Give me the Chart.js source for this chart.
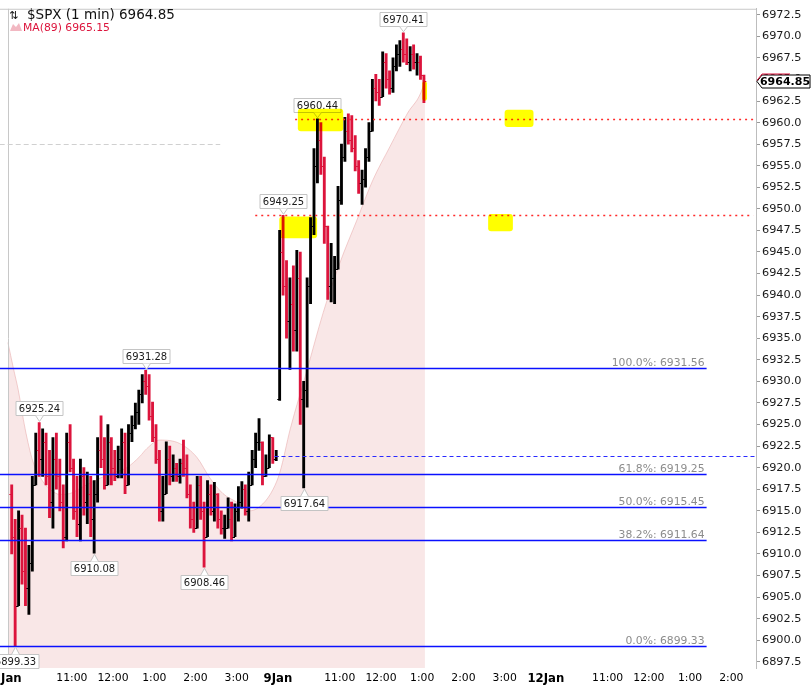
<!DOCTYPE html>
<html>
<head>
<meta charset="utf-8">
<script src="https://cdn.jsdelivr.net/npm/chart.js@4.4.1/dist/chart.umd.min.js"></script>
<style>
  html, body { margin: 0; padding: 0; background: #fff; }
  canvas { display: block; }
</style>
</head>
<body>
<canvas id="spxChart" width="811" height="687"></canvas>
<script>
    // Time axis: trading minutes counted from 9:30 on 8 Jan (9 Jan open = 390, 12 Jan open = 780)
    const barTimes = [
        0, 5, 10, 15, 20, 25, 30, 35, 40, 45, 50, 55, 60, 65, 70, 75, 80, 85, 90, 95,
        100, 105, 110, 115, 120, 125, 130, 135, 140, 145, 150, 155, 160, 165, 170, 175, 180, 185, 190, 195,
        200, 205, 210, 215, 220, 225, 230, 235, 240, 245, 250, 255, 260, 265, 270, 275, 280, 285, 290, 295,
        300, 305, 310, 315, 320, 325, 330, 335, 340, 345, 350, 355, 360, 365, 370, 375, 380, 385,
        390, 395, 400, 405, 410, 415, 420, 425, 430, 435, 440, 445, 450, 455, 460, 465, 470, 475, 480, 485,
        490, 495, 500, 505, 510, 515, 520, 525, 530, 535, 540, 545, 550, 555, 560, 565, 570, 575, 580, 585,
        590, 595, 600
    ];
    const barOpen = [
        6917, 6912, 6904, 6913, 6908, 6906, 6909, 6918, 6922, 6921, 6923, 6919, 6916, 6921, 6919, 6916, 6912, 6923, 6920, 6915,
        6913.5, 6919, 6916, 6917, 6914, 6917, 6922, 6921, 6918, 6923, 6920, 6919, 6921, 6923, 6918, 6924, 6925, 6926.5, 6928.5, 6930,
        6929.5, 6926, 6923.5, 6921, 6915, 6917, 6921, 6919, 6920, 6919, 6920.5, 6920, 6917, 6914, 6913, 6918, 6915, 6912, 6917, 6915,
        6917, 6914, 6913, 6913, 6914, 6912, 6915, 6916, 6917.5, 6915, 6918, 6921, 6923, 6923, 6919, 6920, 6923.5, 6921,
        6928, 6945, 6941, 6937, 6939, 6936, 6942, 6928, 6929, 6941, 6948, 6955, 6958, 6955, 6948, 6941, 6942, 6943, 6951, 6956,
        6959, 6958, 6957, 6955, 6953, 6953.5, 6956, 6959, 6964, 6963.5, 6963, 6967, 6965, 6964, 6966.5, 6968, 6968.5, 6968, 6967, 6968,
        6967, 6967, 6965.5
    ];
    const barHigh = [
        6918, 6914, 6915, 6914.5, 6913, 6911, 6919, 6924, 6925.24, 6924.5, 6924, 6922, 6923.5, 6924, 6921, 6918, 6924, 6925, 6921, 6919,
        6921, 6920, 6919.5, 6919, 6918.5, 6923.5, 6926, 6923.5, 6925, 6923.5, 6922, 6922.5, 6924.5, 6924, 6925, 6926, 6927.5, 6929, 6930.8, 6931.28,
        6930.8, 6927.6, 6925, 6922, 6919, 6923, 6922.5, 6921.5, 6920.5, 6921, 6923.2, 6921.5, 6918, 6916, 6919, 6919, 6916, 6918.5, 6918, 6918.3,
        6917, 6915, 6914.5, 6916.5, 6916, 6915.8, 6917.8, 6918.4, 6918, 6919.5, 6922, 6924, 6925.7, 6923, 6921.5, 6923.8, 6923.5, 6922,
        6947.5, 6949.25, 6944, 6942, 6943.4, 6945.2, 6945, 6930, 6942, 6949, 6957, 6960.44, 6960, 6956, 6948, 6946, 6944.5, 6952.6, 6957.5, 6960.6,
        6961, 6960.8, 6958.5, 6955.6, 6954.5, 6957, 6960, 6965, 6965.6, 6965, 6968.2, 6968, 6966, 6967.5, 6969, 6969.5, 6970.41, 6969.7, 6968.8, 6969,
        6968, 6967.7, 6965.5
    ];
    const barLow = [
        6910, 6899.33, 6904, 6906.5, 6904, 6903, 6908, 6918, 6919, 6919, 6918, 6914.2, 6913, 6917.5, 6915, 6910.7, 6911.5, 6919.5, 6914, 6912,
        6911.5, 6914.5, 6913.5, 6912, 6910.08, 6916, 6920, 6917.5, 6918, 6918, 6918.5, 6918.8, 6918.8, 6917, 6918, 6923, 6924.5, 6925, 6927.5, 6928.5,
        6925.5, 6923, 6920.5, 6913.8, 6913.8, 6917, 6918, 6918.4, 6918.4, 6918.2, 6919, 6916.5, 6913, 6912.5, 6913, 6914, 6908.46, 6912, 6914.5, 6913.8,
        6913, 6912.3, 6911.8, 6913, 6911.5, 6912, 6913.8, 6915.3, 6914.5, 6913.8, 6918, 6920, 6922, 6918, 6919, 6920, 6920.5, 6920.8,
        6927.8, 6940, 6935, 6931.4, 6933.5, 6933.5, 6925, 6917.64, 6927, 6939, 6947, 6953, 6954, 6946, 6939.5, 6939.2, 6939, 6943, 6950.5, 6955.5,
        6957.5, 6956.6, 6954.4, 6951.8, 6950.5, 6952.5, 6955.5, 6959, 6962.5, 6962, 6963, 6964, 6963.3, 6963.5, 6966, 6966.5, 6967, 6966.7, 6966, 6966.2,
        6965.5, 6965, 6962.3
    ];
    const barClose = [
        6912, 6904, 6913, 6908, 6906, 6909, 6918, 6922, 6921, 6923, 6919, 6916, 6921, 6919, 6916, 6912, 6923, 6920, 6915, 6913.5,
        6919, 6916, 6917, 6914, 6917, 6922, 6921, 6918, 6923, 6920, 6919, 6921, 6923, 6918, 6924, 6925, 6926.5, 6928.5, 6930, 6929.5,
        6926, 6923.5, 6921, 6915, 6917, 6921, 6919, 6920, 6919, 6920.5, 6920, 6917, 6914, 6913, 6918, 6915, 6912, 6917, 6915, 6917,
        6914, 6913, 6913, 6914, 6912, 6915, 6916, 6917.5, 6915, 6918, 6921, 6923, 6923, 6919, 6920, 6923.5, 6921, 6921.3,
        6945, 6941, 6937, 6939, 6936, 6942, 6928, 6929, 6941, 6948, 6955, 6958, 6955, 6948, 6941, 6942, 6943, 6951, 6956, 6959,
        6958, 6957, 6955, 6953, 6953.5, 6956, 6959, 6964, 6963.5, 6963, 6967, 6965, 6964, 6966.5, 6968, 6968.5, 6968, 6967, 6968, 6967,
        6967, 6965.5, 6964.85
    ];

    // MA(89)
    const maTimes = [-3, 5, 12, 22, 33, 47, 58, 73, 87, 102, 121, 146, 170, 189, 199, 218, 247, 272, 291, 310,
        330, 349, 368, 383, 393, 408, 432, 456, 480, 505, 528, 553, 578, 601, 604];
    const maValues = [6934.5, 6931.5, 6929, 6924.5, 6920.8, 6918.5, 6917.5, 6916.9, 6917, 6917.6, 6918.4, 6919.3, 6920, 6921.3, 6922.2, 6923.2, 6922.8, 6921.2, 6918.8, 6917,
        6916, 6915, 6915.8, 6917.5, 6919.5, 6924.5, 6931.2, 6938, 6943.7, 6948.7, 6953.3, 6957.2, 6961, 6964.1, 6965.15];

    // Fibonacci retracement
    const fibValues = [6931.56, 6919.25, 6915.45, 6911.64, 6899.33];
    const fibLabels = ['100.0%: 6931.56', '61.8%: 6919.25', '50.0%: 6915.45', '38.2%: 6911.64', '0.0%: 6899.33'];
    const fibEnd = 1014;

    // Other drawn levels: [value, start time, end time]
    const priorClose = [6921.3, 385, 1086];
    const redLevels = [[6960.44, 415, 1086], [6949.25, 357, 1082]];
    const grayLevel = [6957.5, -15, 306];

    // Price callouts
    const calloutTimes = [7.5, 42.5, 122.5, 197.5, 282.5, 397.5, 427.5, 447.5, 572.5];
    const calloutValues = [6899.33, 6925.24, 6910.08, 6931.28, 6908.46, 6949.25, 6917.64, 6960.44, 6970.41];
    const calloutAbove = [false, true, false, true, false, true, false, true, true];

    // Yellow highlighter marks: [t0, t1, low, high]
    const highlights = [
        [419, 485, 6959, 6961.6],
        [720, 762, 6959.5, 6961.5],
        [392, 447, 6946.6, 6949.1],
        [696, 732, 6947.4, 6949.4],
        [600, 607, 6962.5, 6964.8]
    ];

    const tickTimes = [2, 90, 150, 210, 270, 330, 390, 480, 540, 600, 660, 720, 780, 870, 930, 990, 1050];
    const tickLabels = ['Jan', '11:00', '12:00', '1:00', '2:00', '3:00', '9Jan', '11:00', '12:00', '1:00', '2:00', '3:00', '12Jan', '11:00', '12:00', '1:00', '2:00'];

    const lastPrice = 6964.85;
    const lastMA = 6965.15;

    const upColor = '#000000';
    const downColor = '#dc143c';
    const font = 'DejaVu Sans';

    // Drawing of everything the datasets do not cover
    const overlay = {
        id: 'overlay',
        afterDatasetsDraw(chart) {
            const { ctx, chartArea: a, scales: { x, y } } = chart;
            ctx.save();

            // open / close ticks of the bars
            ctx.lineWidth = 1;
            barTimes.forEach((t, i) => {
                const px = x.getPixelForValue(t + 2.5);
                const yo = Math.round(y.getPixelForValue(barOpen[i])) + 0.5;
                const yc = Math.round(y.getPixelForValue(barClose[i])) + 0.5;
                ctx.strokeStyle = barClose[i] >= barOpen[i] ? upColor : downColor;
                ctx.beginPath();
                ctx.moveTo(px - 2.4, yo); ctx.lineTo(px, yo);
                ctx.moveTo(px, yc); ctx.lineTo(px + 2.4, yc);
                ctx.stroke();
            });

            // frame
            ctx.strokeStyle = '#c8c8c8';
            ctx.beginPath();
            ctx.moveTo(0, a.top + 0.5); ctx.lineTo(a.right, a.top + 0.5);
            const sx = Math.round(x.getPixelForValue(-3)) + 0.5;
            ctx.moveTo(sx, a.top); ctx.lineTo(sx, a.bottom);
            ctx.stroke();

            // gray dashed level
            ctx.setLineDash([5, 3]);
            ctx.strokeStyle = '#d0d0d0';
            let gy = Math.round(y.getPixelForValue(grayLevel[0])) + 0.5;
            ctx.beginPath();
            ctx.moveTo(x.getPixelForValue(grayLevel[1]), gy);
            ctx.lineTo(x.getPixelForValue(grayLevel[2]), gy);
            ctx.stroke();

            // prior close, blue dashed
            ctx.setLineDash([4, 3]);
            ctx.strokeStyle = '#2a2aff';
            gy = Math.round(y.getPixelForValue(priorClose[0])) + 0.5;
            ctx.beginPath();
            ctx.moveTo(x.getPixelForValue(priorClose[1]), gy);
            ctx.lineTo(x.getPixelForValue(priorClose[2]), gy);
            ctx.stroke();

            // red dotted levels
            ctx.setLineDash([2, 4]);
            ctx.strokeStyle = '#ff2a2a';
            ctx.lineWidth = 1.3;
            redLevels.forEach(l => {
                const ly = Math.round(y.getPixelForValue(l[0])) + 0.5;
                ctx.beginPath();
                ctx.moveTo(x.getPixelForValue(l[1]), ly);
                ctx.lineTo(x.getPixelForValue(l[2]), ly);
                ctx.stroke();
            });
            ctx.setLineDash([]);

            // Fibonacci lines and labels
            ctx.font = '10.8px "' + font + '"';
            ctx.textAlign = 'right';
            ctx.textBaseline = 'alphabetic';
            fibValues.forEach((v, i) => {
                const ly = Math.round(y.getPixelForValue(v)) + 0.5;
                const xe = x.getPixelForValue(fibEnd);
                ctx.strokeStyle = '#0a10ff';
                ctx.lineWidth = 1.3;
                ctx.beginPath();
                ctx.moveTo(0, ly); ctx.lineTo(xe, ly);
                ctx.stroke();
                ctx.fillStyle = '#8c8c8c';
                ctx.fillText(fibLabels[i], xe - 2, ly - 3);
            });

            // callouts
            ctx.font = '10px "' + font + '"';
            ctx.textAlign = 'center';
            ctx.textBaseline = 'middle';
            ctx.lineWidth = 1;
            calloutTimes.forEach((t, i) => {
                const px = Math.round(x.getPixelForValue(t)) + 0.5;
                const py = y.getPixelForValue(calloutValues[i]);
                const text = calloutValues[i].toFixed(2);
                const w = Math.round(ctx.measureText(text).width) + 6;
                const h = 14;
                const bx = px - w / 2;
                let by, tip, base;
                if (calloutAbove[i]) {
                    base = Math.round(py - 7) + 0.5;
                    by = base - h;
                    tip = py - 1;
                } else {
                    base = Math.round(py + 8) + 0.5;
                    by = base;
                    tip = py + 1;
                }
                ctx.fillStyle = '#ffffff';
                ctx.strokeStyle = '#c4c4c4';
                ctx.beginPath();
                ctx.rect(bx, by, w, h);
                ctx.fill();
                ctx.stroke();
                ctx.beginPath();
                ctx.moveTo(px - 4, base); ctx.lineTo(px, tip); ctx.lineTo(px + 4, base);
                ctx.fillStyle = '#ffffff';
                ctx.fill();
                ctx.stroke();
                ctx.fillStyle = '#1a1a1a';
                ctx.fillText(text, px, by + h / 2 + 0.5);
            });

            // highlighter marks
            ctx.globalCompositeOperation = 'multiply';
            ctx.fillStyle = '#ffff00';
            highlights.forEach(m => {
                const x0 = x.getPixelForValue(m[0]);
                const x1 = x.getPixelForValue(m[1]);
                const y0 = y.getPixelForValue(m[3]);
                const y1 = y.getPixelForValue(m[2]);
                ctx.beginPath();
                ctx.roundRect(x0, y0, x1 - x0, y1 - y0, 3);
                ctx.fill();
            });
            ctx.restore();
        },
        afterDraw(chart) {
            const { ctx, chartArea: a, scales: { y } } = chart;
            ctx.save();

            // header
            ctx.textAlign = 'left';
            ctx.textBaseline = 'alphabetic';
            ctx.fillStyle = '#111';
            ctx.font = '11px "' + font + '"';
            ctx.fillText('⇅', 9, 19);
            ctx.font = '13.5px "' + font + '"';
            ctx.fillText('$SPX (1 min) ' + lastPrice.toFixed(2), 27, 19);

            // MA legend with small mountain icon
            ctx.fillStyle = '#f2b8c2';
            ctx.beginPath();
            ctx.moveTo(10, 31); ctx.lineTo(13, 24); ctx.lineTo(16, 27); ctx.lineTo(19, 23); ctx.lineTo(22, 31);
            ctx.closePath();
            ctx.fill();
            ctx.fillStyle = downColor;
            ctx.font = '10.8px "' + font + '"';
            ctx.fillText('MA(89) ' + lastMA.toFixed(2), 23, 31);

            // last price tag on the axis
            const ty = Math.round(y.getPixelForValue(lastPrice)) + 0.5;
            const tx = a.right;
            ctx.beginPath();
            ctx.moveTo(tx + 1, ty);
            ctx.lineTo(tx + 6, ty - 6.5);
            ctx.lineTo(810, ty - 6.5);
            ctx.lineTo(810, ty + 6.5);
            ctx.lineTo(tx + 6, ty + 6.5);
            ctx.closePath();
            ctx.fillStyle = '#ffffff';
            ctx.fill();
            ctx.strokeStyle = '#000';
            ctx.lineWidth = 1;
            ctx.stroke();
            ctx.strokeStyle = downColor;
            ctx.beginPath();
            ctx.moveTo(tx + 1, ty - 1);
            ctx.lineTo(tx + 6, ty - 7.5);
            ctx.lineTo(790, ty - 7.5);
            ctx.stroke();
            ctx.fillStyle = '#000';
            ctx.font = 'bold 11px "' + font + '"';
            ctx.textAlign = 'center';
            ctx.textBaseline = 'middle';
            ctx.fillText(lastPrice.toFixed(2), 785, ty + 0.5);
            ctx.restore();
        }
    };

    const spxChart = new Chart(document.getElementById('spxChart').getContext('2d'), {
        type: 'bar',
        data: {
            datasets: [{
                type: 'bar',
                label: '$SPX',
                data: barTimes.map((t, i) => ({ x: t + 2.5, y: [barLow[i], barHigh[i]] })),
                backgroundColor: barTimes.map((t, i) => barClose[i] >= barOpen[i] ? upColor : downColor),
                barThickness: 2.2,
                grouped: false,
                order: 1
            }, {
                type: 'line',
                label: 'MA(89)',
                data: maTimes.map((t, i) => ({ x: t, y: maValues[i] })),
                borderColor: 'rgba(232, 170, 170, 0.55)',
                backgroundColor: 'rgba(235, 175, 175, 0.3)',
                borderWidth: 1,
                pointRadius: 0,
                fill: 'start',
                cubicInterpolationMode: 'monotone',
                order: 2
            }]
        },
        options: {
            responsive: false,
            devicePixelRatio: 1,
            animation: false,
            layout: { padding: { top: 4, left: 0, right: 0, bottom: 0 } },
            plugins: {
                legend: { display: false },
                tooltip: { enabled: false }
            },
            scales: {
                x: {
                    type: 'linear',
                    min: -14.56,
                    max: 1085.9,
                    offset: false,
                    grid: { display: false, drawTicks: false },
                    border: { display: false },
                    afterBuildTicks: (scale) => { scale.ticks = tickTimes.map(v => ({ value: v })); },
                    afterFit: (scale) => { scale.height = 19; scale.paddingLeft = 0; scale.paddingRight = 0; },
                    ticks: {
                        autoSkip: false,
                        maxRotation: 0,
                        padding: 4,
                        color: '#000',
                        callback: (value) => tickLabels[tickTimes.indexOf(value)],
                        font: (c) => {
                            const label = c.tick ? tickLabels[tickTimes.indexOf(c.tick.value)] : '';
                            return label && label.includes('Jan')
                                ? { family: font, size: 11.7, weight: 'bold' }
                                : { family: font, size: 10.8 };
                        }
                    }
                },
                y: {
                    position: 'right',
                    min: 6896.78,
                    max: 6973.19,
                    grid: { drawOnChartArea: false, tickLength: 4, color: '#9a9a9a' },
                    border: { color: '#bdbdbd' },
                    afterFit: (scale) => { scale.width = 55; },
                    ticks: {
                        stepSize: 2.5,
                        includeBounds: false,
                        maxTicksLimit: 60,
                        padding: 2,
                        color: '#1a1a1a',
                        font: { family: font, size: 11.3 },
                        callback: (v) => Number(v).toFixed(1)
                    }
                }
            }
        },
        plugins: [overlay]
    });
</script>
</body>
</html>
